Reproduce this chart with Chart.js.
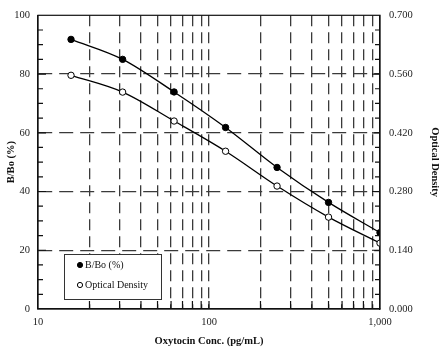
<!DOCTYPE html>
<html>
<head>
<meta charset="utf-8">
<script src="https://cdn.jsdelivr.net/npm/chart.js@4.4.1/dist/chart.umd.min.js"></script>
<style>
html,body{margin:0;padding:0;background:#fff;}
#wrap{width:444px;height:357px;position:relative;}
</style>
</head>
<body>
<div id="wrap"><canvas id="c" width="444" height="357"></canvas></div>
<script>
// ---- data ----
const concentrations = [15.6, 31.25, 62.5, 125, 250, 500, 1000];
const bBoPercent = [91.8, 85.0, 73.9, 61.8, 48.2, 36.3, 26.0];
const opticalDensity = [0.557, 0.517, 0.448, 0.376, 0.293, 0.219, 0.157];
const xTickValues = [10,20,30,40,50,60,70,80,90,100,200,300,400,500,600,700,800,900,1000];
const xTickLabels = {10:'10', 100:'100', 1000:'1,000'};
const yLeftTicks = [0,20,40,60,80,100];
const yRightTicks = [0,0.14,0.28,0.42,0.56,0.70];
const seriesLabels = ['B/Bo (%)', 'Optical Density'];
const axisTitles = {x:'Oxytocin Conc. (pg/mL)', y:'B/Bo (%)', y2:'Optical Density'};

const FONT = "'Liberation Serif','DejaVu Serif',serif";
const GRID = '#3a3a3a';

const framePlugin = {
  id:'frame',
  afterDraw(chart){
    const {ctx, chartArea:a, scales} = chart;
    ctx.save();
    ctx.strokeStyle = '#111';
    ctx.lineWidth = 1.2;
    ctx.setLineDash([]);
    ctx.strokeRect(a.left, a.top, a.right - a.left, a.bottom - a.top);
    ctx.beginPath();
    // x inside ticks
    scales.x.ticks.forEach(t=>{
      if (t.value===10||t.value===1000) return;
      const px = scales.x.getPixelForValue(t.value);
      ctx.moveTo(px, a.bottom); ctx.lineTo(px, a.bottom-8);
    });
    // left minor ticks
    for (let v=5; v<100; v+=5){
      const py = scales.y.getPixelForValue(v);
      const len = v%20===0 ? 8 : 5;
      ctx.moveTo(a.left, py); ctx.lineTo(a.left+len, py);
    }
    // right minor ticks
    for (let i=1;i<20;i++){
      const v = i*0.035;
      const py = scales.y2.getPixelForValue(v);
      const len = i%4===0 ? 8 : 5;
      ctx.moveTo(a.right, py); ctx.lineTo(a.right-len, py);
    }
    ctx.stroke();
    // legend box
    const bx=64, by=254, bw=97, bh=45;
    ctx.fillStyle='#fff';
    ctx.fillRect(bx,by,bw,bh);
    ctx.strokeStyle='#333';
    ctx.lineWidth=1;
    ctx.strokeRect(bx+0.5,by+0.5,bw,bh);
    chart.data.datasets.forEach((ds,i)=>{
      const cy = by + 11 + i*20;
      ctx.beginPath();
      ctx.arc(bx+16, cy, 2.6, 0, Math.PI*2);
      ctx.fillStyle = ds.pointBackgroundColor;
      ctx.fill();
      ctx.strokeStyle='#000'; ctx.lineWidth=1;
      ctx.stroke();
      ctx.fillStyle='#111';
      ctx.font = "10px " + FONT;
      ctx.textBaseline='middle';
      ctx.textAlign='left';
      ctx.fillText(ds.label, bx+21, cy+0.5);
    });
    ctx.restore();
  }
};

const toPts = (ys)=>concentrations.map((c,i)=>({x:c, y:ys[i]}));

new Chart(document.getElementById('c'), {
  type:'line',
  data:{
    datasets:[
      {label:seriesLabels[0], data:toPts(bBoPercent), yAxisID:'y',
       borderColor:'#000', borderWidth:1.3, pointBackgroundColor:'#000', pointBorderColor:'#000',
       pointRadius:3.2, pointBorderWidth:1, cubicInterpolationMode:'monotone'},
      {label:seriesLabels[1], data:toPts(opticalDensity), yAxisID:'y2',
       borderColor:'#000', borderWidth:1.3, pointBackgroundColor:'#fff', pointBorderColor:'#000',
       pointRadius:3.2, pointBorderWidth:1, cubicInterpolationMode:'monotone'}
    ]
  },
  options:{
    responsive:false, animation:false,
    layout:{padding:{top:14,left:0,right:0,bottom:0}},
    plugins:{legend:{display:false}, tooltip:{enabled:false}},
    scales:{
      x:{type:'logarithmic', min:10, max:1000, position:'bottom',
        afterBuildTicks(s){ s.ticks = xTickValues.map(v=>({value:v})); },
        afterFit(s){ s.height = 48; },
        ticks:{autoSkip:false, maxRotation:0, padding:7, color:'#222',
          font:{family:FONT, size:10.5},
          callback(v){ return xTickLabels[v] || ''; }},
        grid:{drawTicks:false, lineWidth:1.3,
          color(ctx){ const v = ctx.tick && ctx.tick.value; return (v===10||v===1000)?'rgba(0,0,0,0)':GRID; }},
        border:{display:true, color:'#111', width:1.2, dash:[11,6]},
        title:{display:true, text:axisTitles.x, color:'#111',
          font:{family:FONT, size:10.5, weight:'bold'}, padding:{top:0,bottom:9.5}}
      },
      y:{type:'linear', min:0, max:100, position:'left',
        afterBuildTicks(s){ s.ticks = yLeftTicks.map(v=>({value:v})); },
        afterFit(s){ s.width = 38; },
        ticks:{padding:8, color:'#222', font:{family:FONT, size:10.5}},
        grid:{drawTicks:false, lineWidth:1.3,
          color(ctx){ const v = ctx.tick && ctx.tick.value; return (v===0||v===100)?'rgba(0,0,0,0)':GRID; }},
        border:{display:true, color:'#111', width:1.2, dash:[14,7]},
        title:{display:true, text:axisTitles.y, color:'#111',
          font:{family:FONT, size:10.5, weight:'bold'}, padding:{top:4.5,bottom:0}}
      },
      y2:{type:'linear', min:0, max:0.7, position:'right',
        afterBuildTicks(s){ s.ticks = yRightTicks.map(v=>({value:v})); },
        afterFit(s){ s.width = 64; },
        ticks:{padding:9, color:'#222', font:{family:FONT, size:10.5},
          callback(v){ return Number(v).toFixed(3); }},
        grid:{display:false, drawTicks:false},
        border:{display:true, color:'#111', width:1.2},
        title:{display:true, text:axisTitles.y2, color:'#111',
          font:{family:FONT, size:10.5, weight:'bold'}, padding:{top:2.5,bottom:0}}
      }
    }
  },
  plugins:[framePlugin]
});
</script>
</body>
</html>
